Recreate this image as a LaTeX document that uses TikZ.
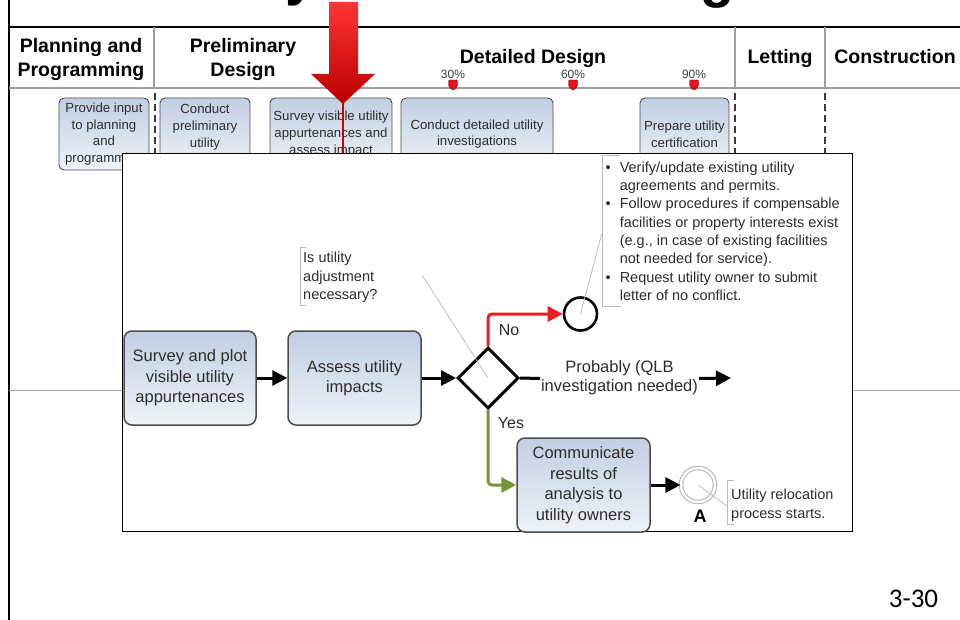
\documentclass[tikz,border=0pt]{standalone}
\usepackage{fontspec}
\setmainfont{Liberation Sans}
\newfontfamily\pagenumfont{Carlito}
\usetikzlibrary{arrows.meta,shapes.geometric}
\definecolor{boxtop}{RGB}{193,207,226}
\definecolor{boxbot}{RGB}{238,242,248}
\definecolor{nored}{RGB}{232,30,36}
\definecolor{yesgreen}{RGB}{119,147,60}
\definecolor{txtgray}{RGB}{45,45,45}
\definecolor{arrowtop}{RGB}{255,52,52}
\definecolor{arrowbot}{RGB}{185,0,0}
\definecolor{mkred}{RGB}{225,20,30}

\begin{document}
\begin{tikzpicture}[x=1pt,y=-1pt,
  hdr/.style={font=\fontsize{19.5}{24}\selectfont\bfseries, align=center, inner sep=0pt},
  phase/.style={draw=gray!75, line width=1.2pt},
  lanedash/.style={draw=gray!45!black, dash pattern=on 7pt off 4pt, line width=1.6pt},
  smallbox/.style={draw=gray!60!black, line width=0.9pt, rounded corners=5pt,
    top color=boxtop, bottom color=boxbot, align=center,
    font=\fontsize{13.2}{16.7}\selectfont, minimum height=72pt, inner sep=1pt, text=txtgray},
  bigbox/.style={draw=black!70, line width=1.5pt, rounded corners=8pt,
    top color=boxtop, bottom color=boxbot, align=center,
    font=\fontsize{16.5}{20.5}\selectfont, minimum height=94pt, inner sep=1pt, text=txtgray},
  flow/.style={line width=3pt, -{Triangle[length=15pt,width=15pt]}},
  note/.style={font=\fontsize{14.5}{18.3}\selectfont, inner sep=0pt, text=txtgray},
  notebr/.style={draw=gray!55, line width=0.9pt},
  assoc/.style={draw=gray!50, line width=0.8pt},
  msmarker/.style={fill=mkred, draw=red!60!black, line width=0.4pt, rounded corners=1pt},
  pct/.style={font=\fontsize{12}{14}\selectfont, text=black!75, inner sep=0pt},
  lbl/.style={font=\fontsize{16}{19}\selectfont, inner sep=0pt, text=txtgray}
]
\useasboundingbox (0,0) rectangle (960,620);
\fill[white] (0,0) rectangle (960,620);

% descenders of the heading line above the frame
\node[font=\fontsize{56}{60}\selectfont\bfseries, anchor=base west, inner sep=0pt] (ty) at (285,-5) {y};
\node[font=\fontsize{56}{60}\selectfont\bfseries, anchor=base west, inner sep=0pt] (tg) at (700,-3) {g};

% frame and phase header
\draw[line width=2pt] (9,0) -- (9,620);
\draw[line width=1.5pt] (9,27) -- (960,27);
\draw[phase] (9,88) -- (960,88);
\draw[phase] (154,27) -- (154,88);
\draw[phase] (735,27) -- (735,88);
\draw[phase] (825,27) -- (825,88);

\node[hdr] (hPlan) at (81,60) {Planning and\\Programming};
\node[hdr] (hPrel) at (243,60) {Preliminary\\Design};
\node[hdr, anchor=base] (hDet) at (533,64) {Detailed Design};
\node[hdr, anchor=base] (hLet) at (780,64) {Letting};
\node[hdr, anchor=base] (hCon) at (895,64) {Construction};

% design milestones
\foreach \mx/\mp in {453/30, 573/60, 694/90}{
  \node[pct] (ms\mp) at (\mx,74) {\mp\%};
  \draw[msmarker] (\mx-4.5,80) -- (\mx+4.5,80) -- (\mx+4.5,86) -- (\mx,90.5) -- (\mx-4.5,86) -- cycle;
}

% phase boundaries and lane line
\draw[lanedash] (155,93) -- (155,175);
\draw[lanedash] (735,93) -- (735,160);
\draw[lanedash] (825,93) -- (825,160);
\draw[draw=gray!70, line width=1pt] (9,390) -- (960,390);

% activities along the project timeline
\node[smallbox, minimum width=90pt] (s1) at (104,134) {Provide input\\to planning\\and\\programming};
\node[smallbox, minimum width=90pt] (s2) at (205,134) {Conduct\\preliminary\\utility\\~};
\node[smallbox, minimum width=122pt] (s3) at (331,134) {Survey visible utility\\appurtenances and\\assess impact};
\node[smallbox, minimum width=152pt] (s4) at (477,134) {Conduct detailed utility\\investigations};
\node[smallbox, minimum width=89pt] (s5) at (684.5,134) {Prepare utility\\certification};

% pointer to the expanded activity
\path[top color=arrowtop, bottom color=arrowbot]
  (329,2) -- (358,2) -- (358,74) -- (375,74) -- (343,104) -- (311,74) -- (329,74) -- cycle;
\draw[red!80!black, line width=2pt] (343,103) -- (343,153);

% expanded process panel
\node[draw=black, line width=1.2pt, fill=white, minimum width=730pt, minimum height=378pt,
  anchor=north west, inner sep=0pt] (panel) at (122,153) {};

\node[bigbox, minimum width=132pt] (bA) at (190,378) {Survey and plot\\visible utility\\appurtenances};
\node[bigbox, minimum width=133pt] (bB) at (354.5,378) {Assess utility\\impacts};
\node[diamond, draw=black, line width=3pt, minimum width=61pt, minimum height=61pt, inner sep=0pt, fill=white] (dia) at (488,378) {};
\node[circle, draw=black, line width=2.6pt, minimum size=33pt, inner sep=0pt] (noend) at (580.5,314) {};
\node[bigbox, minimum width=133pt] (bC) at (583.5,485) {Communicate\\results of\\analysis to\\utility owners};
\node[circle, draw=gray!55, line width=1.1pt, double=white, double distance=2.4pt, minimum size=34pt, inner sep=0pt] (endA) at (698,485) {};
\node[font=\fontsize{18}{20}\selectfont\bfseries, inner sep=0pt] (lblA) at (700,516) {A};

% sequence flows
\draw[flow] (bA.east) -- (bB.west);
\draw[flow] (bB.east) -- (dia.west);
\draw[flow, nored, rounded corners=4pt] (dia.north) |- (noend.west);
\draw[flow, yesgreen, rounded corners=4pt] (dia.south) |- (bC.west);
\draw[flow] (bC.east) -- (endA.west);
\node[lbl] (lNo) at (509,330) {No};
\node[lbl] (lYes) at (511,423) {Yes};

\node[font=\fontsize{16.5}{19}\selectfont, inner sep=1pt, text=txtgray] (lblP) at (619.5,378.5)
  {\begin{tabular}{@{}c@{}}Probably (QLB\\investigation needed)\end{tabular}};
\coordinate (pend) at (731,378);
\draw[line width=3pt] (dia.east) -- (lblP.west);
\draw[flow] (lblP.east) -- (pend);

% annotations
\coordinate (qtail) at (422,275);
\draw[assoc] (qtail) -- (dia.center);
\draw[notebr] (306,247) -- (300,247) -- (300,305) -- (306,305);
\node[note, anchor=north west] (qnote) at (303,249.7)
  {\begin{tabular}{@{}l@{}}Is utility\\adjustment\\necessary?\end{tabular}};

\coordinate (bkA) at (602,233);
\draw[assoc] (noend.center) -- (bkA);
\draw[notebr] (620,155) -- (602,155) -- (602,306) -- (621,306);
\node[note, anchor=north west] (bul) at (605.5,159.2)
  {\begin{tabular}{@{}l@{\hspace{9pt}}l@{}}
   \textbullet & Verify/update existing utility\\
               & agreements and permits.\\
   \textbullet & Follow procedures if compensable\\
               & facilities or property interests exist\\
               & (e.g., in case of existing facilities\\
               & not needed for service).\\
   \textbullet & Request utility owner to submit\\
               & letter of no conflict.
   \end{tabular}};

\coordinate (bkR) at (727,506);
\draw[assoc] (endA.center) -- (bkR);
\draw[notebr] (734,480) -- (727,480) -- (727,524) -- (734,524);
\node[note, anchor=north west] (rnote) at (731,486.7)
  {\begin{tabular}{@{}l@{}}Utility relocation\\process starts.\end{tabular}};

% page number
\node[font=\pagenumfont\fontsize{27}{30}\selectfont, inner sep=0pt] (pgno) at (913.5,599) {3-30};
\end{tikzpicture}
\end{document}
